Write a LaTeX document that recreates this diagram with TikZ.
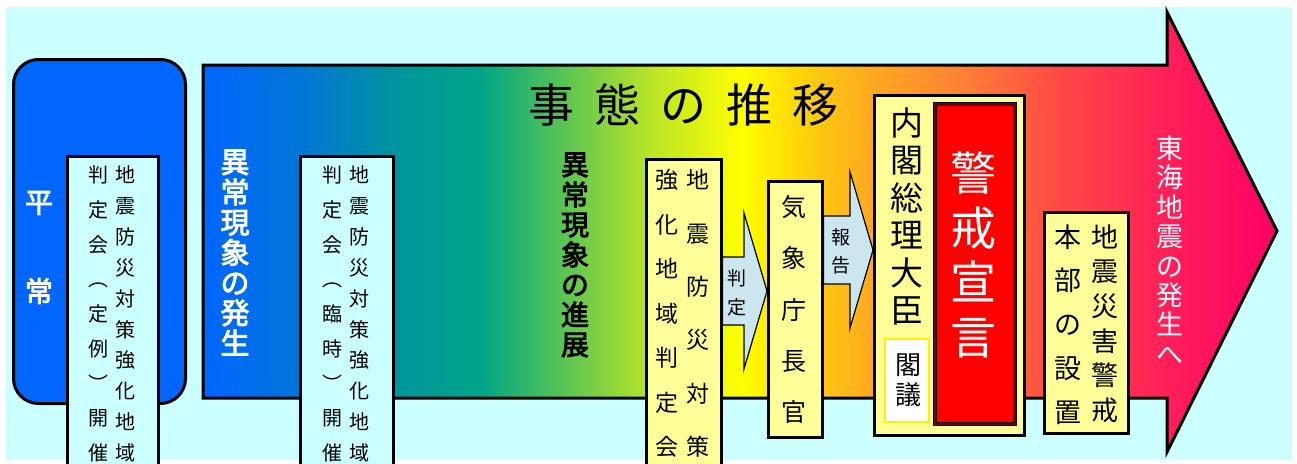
\documentclass[tikz,border=0pt]{standalone}
\usepackage{fontspec}
\setmainfont{Noto Sans CJK JP}
\newfontfamily\jpmed{Noto Sans CJK JP}[FakeBold=3]
\usetikzlibrary{calc,positioning}
\definecolor{bgcyan}{RGB}{204,255,255}
\definecolor{boxcyan}{RGB}{204,255,255}
\definecolor{boxyel}{RGB}{255,255,153}
\definecolor{arrblue}{RGB}{204,230,240}
\definecolor{heijoblue}{RGB}{0,102,255}
\definecolor{suiA}{RGB}{0,102,255}
\definecolor{suiB}{RGB}{0,118,215}
\definecolor{suiC}{RGB}{0,150,155}
\definecolor{suiD}{RGB}{0,165,135}
\definecolor{suiE}{RGB}{85,195,85}
\definecolor{suiF}{RGB}{185,228,40}
\definecolor{suiG}{RGB}{255,255,0}
\definecolor{suiH}{RGB}{255,212,10}
\definecolor{suiI}{RGB}{255,170,32}
\definecolor{suiJ}{RGB}{255,130,52}
\definecolor{suiK}{RGB}{255,72,70}
\definecolor{suiL}{RGB}{255,30,90}
\definecolor{suiM}{RGB}{255,0,102}
\pgfdeclarehorizontalshading{suii}{100bp}{color(0bp)=(suiA); color(25bp)=(suiA);
color(29.5bp)=(suiB); color(34.2bp)=(suiC); color(37.9bp)=(suiD); color(41.6bp)=(suiE);
color(45.8bp)=(suiF); color(50.1bp)=(suiG); color(52.8bp)=(suiH); color(56bp)=(suiI);
color(60.2bp)=(suiJ); color(64.9bp)=(suiK); color(70bp)=(suiL); color(75bp)=(suiM);
color(100bp)=(suiM)}
\tikzset{cbox/.style={rectangle, draw=black, line width=2.5pt, fill=boxcyan, inner sep=0pt, anchor=north west},
ybox/.style={cbox, fill=boxyel},
rbox/.style={cbox, line width=3pt, fill=heijoblue, rounded corners=25pt},
vcol/.style={inner sep=0pt, align=center},
blockarr/.style={draw=black, line width=1.2pt, fill=arrblue, line join=miter}}
\newcommand{\vfont}[2]{\fontsize{#1}{#2}\selectfont\lineskiplimit=-50pt}
\newcommand{\blockarrow}[4]{
\coordinate (#1_s) at (#2.east |- 0,#4);
\coordinate (#1_e) at (#3.west |- 0,#4);
\draw[blockarr] ($(#1_s)+(0,-34)$) -- ($(#1_e)+(-23,-34)$) -- ($(#1_e)+(-23,-78)$) -- (#1_e)
  -- ($(#1_e)+(-23,78)$) -- ($(#1_e)+(-23,34)$) -- ($(#1_s)+(0,34)$) -- cycle;
}
\begin{document}
\begin{tikzpicture}[x=1pt,y=-1pt]
    \useasboundingbox (0,0) rectangle (1297,463);
    \clip (0,0) rectangle (1297,463);
    \fill[bgcyan] (6,7) rectangle (1292,460);

    \node (heijo_box) [rbox, minimum width=172pt, minimum height=344pt] at (12,58) {};
    \shadedraw[shading=suii, line width=3pt] (203,65) -- (1167,65) -- (1167,12) -- (1277,231)
      -- (1167,452) -- (1167,398) -- (203,398) -- cycle;

    \node (suii_title) [font=\vfont{46}{46}] at (683.5,105) {事\hspace{20pt}態\hspace{20pt}の\hspace{20pt}推\hspace{20pt}移};

    \node (heijo) [vcol, text=white, font=\jpmed\vfont{28}{89}] at (39,247.5) {平\\常};
    \node (ijo_hassei) [vcol, text=white, font=\jpmed\vfont{29}{30.2}] at (235,252.5) {異\\常\\現\\象\\の\\発\\生};
    \node (ijo_shinten) [vcol, font=\jpmed\vfont{28}{30}] at (575,255) {異\\常\\現\\象\\の\\進\\展};
    \node (tokai) [vcol, text=white, font=\vfont{27}{29.4}] at (1170,250) {東\\海\\地\\震\\の\\発\\生\\へ};

    \node (teirei_box) [cbox, minimum width=91pt, minimum height=330pt] at (66,155) {};
    \node (teirei_r) [vcol, font=\vfont{20}{30.9}] at (125,314) {地\\震\\防\\災\\対\\策\\強\\化\\地\\域};
    \node (teirei_l) [vcol, font=\vfont{20}{34.75}] at (98,314) {判\\定\\会\\︵\\定\\例\\︶\\開\\催};

    \node (rinji_box) [cbox, minimum width=93pt, minimum height=330pt] at (299,155) {};
    \node (rinji_r) [vcol, font=\vfont{20}{30.9}] at (359,314) {地\\震\\防\\災\\対\\策\\強\\化\\地\\域};
    \node (rinji_l) [vcol, font=\vfont{20}{34.75}] at (332,314) {判\\定\\会\\︵\\臨\\時\\︶\\開\\催};

    \node (hantei_box) [ybox, minimum width=75pt, minimum height=330pt] at (645,158) {};
    \node (hantei_r) [vcol, font=\vfont{23}{53.4}] at (698,313.5) {地\\震\\防\\災\\対\\策};
    \node (hantei_l) [vcol, font=\vfont{23}{44.5}] at (667,313.5) {強\\化\\地\\域\\判\\定\\会};

    \node (chokan_box) [ybox, minimum width=54pt, minimum height=256pt] at (767,180) {};
    \node (chokan) [vcol, font=\vfont{25}{51.25}] at (794,309.5) {気\\象\\庁\\長\\官};

    \node (sori_box) [ybox, minimum width=150pt, minimum height=340pt] at (873,94) {};
    \node (sori) [vcol, font=\vfont{33}{37.4}] at (907,216.5) {内\\閣\\総\\理\\大\\臣};
    \node (kakugi_box) [cbox, draw=yellow, line width=2pt, fill=white, minimum width=44pt, minimum height=83pt] at (884,338) {};
    \node (kakugi) [vcol, font=\vfont{26}{30}] at (908,380) {閣\\議};
    \node (keikai_box) [cbox, line width=1pt, double=red!45!black, double distance=2pt, fill=red, minimum width=80pt, minimum height=320pt] at (934,103) {};
    \node (keikai) [vcol, text=white, font=\vfont{46}{54.7}] at (973,255) {警\\戒\\宣\\言};

    \node (honbu_box) [ybox, minimum width=84pt, minimum height=221pt] at (1043,211) {};
    \node (honbu_r) [vcol, font=\vfont{27}{34.6}] at (1105,323.5) {地\\震\\災\\害\\警\\戒};
    \node (honbu_l) [vcol, font=\vfont{27}{43.75}] at (1068,324.5) {本\\部\\の\\設\\置};

    \blockarrow{hantei_arr}{hantei_box}{chokan_box}{291}
    \node (hantei_lab) [vcol, font=\vfont{19}{29}] at (737,292.5) {判\\定};
    \blockarrow{hokoku_arr}{chokan_box}{sori_box}{250}
    \node (hokoku_lab) [vcol, font=\vfont{19}{28}] at (841,251) {報\\告};
\end{tikzpicture}
\end{document}
